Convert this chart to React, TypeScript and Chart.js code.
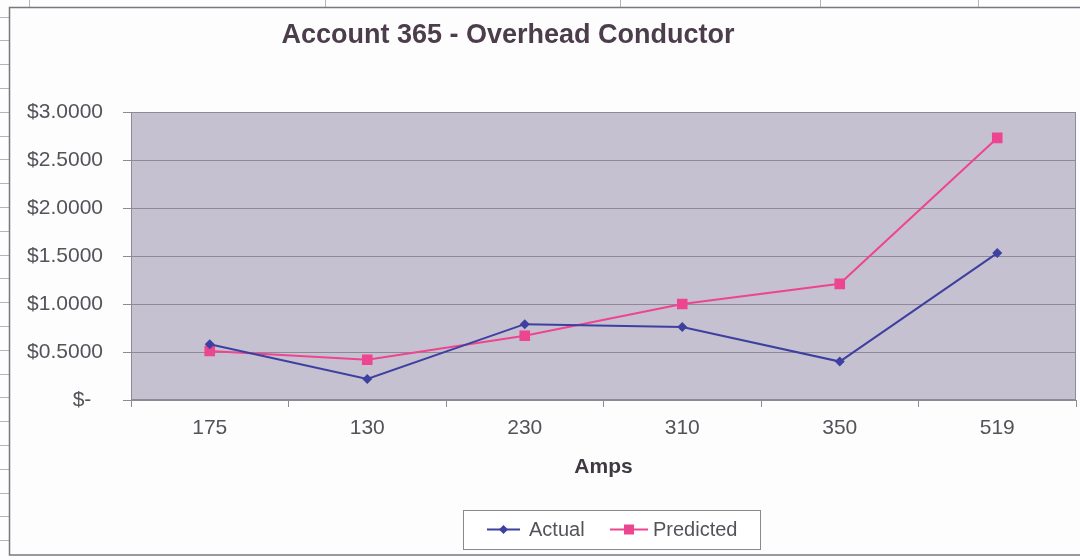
import React, { useEffect, useRef } from "react";
import { Chart, registerables } from "chart.js";

Chart.register(...registerables);

const categories = ["175", "130", "230", "310", "350", "519"];
const actualValues = [0.58, 0.22, 0.79, 0.76, 0.4, 1.53];
const predictedValues = [0.51, 0.42, 0.67, 1.0, 1.21, 2.73];
const chartTitle = "Account 365 - Overhead Conductor";
const xAxisTitle = "Amps";
const seriesNames = ["Actual", "Predicted"];

const BLUE = "#3d40a0";
const PINK = "#ee4590";
const GRID = "#8d8a96";
const TEXT = "#555259";
const FONT = "'Liberation Sans', Arial, sans-serif";
const PLOT_RIGHT = 1076;

const decorPlugin = {
  id: "decor",
  afterLayout(chart: any) {
    // widen the plot area to the reference's right edge
    const xs = chart.scales.x;
    chart.chartArea.right = PLOT_RIGHT;
    chart.chartArea.width = PLOT_RIGHT - chart.chartArea.left;
    xs.right = PLOT_RIGHT;
    xs.width = PLOT_RIGHT - xs.left;
    xs.configure();
  },
  beforeDraw(chart: any) {
    const { ctx, chartArea } = chart;
    ctx.save();
    ctx.fillStyle = "#fdfdfd";
    ctx.fillRect(0, 0, chart.width, chart.height);
    // faint spreadsheet cell lines outside the chart frame
    ctx.strokeStyle = "#b4b2ba";
    ctx.lineWidth = 1;
    ctx.beginPath();
    for (let y = 16.5; y < 560; y += 23.8) {
      const yy = Math.round(y) + 0.5;
      ctx.moveTo(0, yy);
      ctx.lineTo(9, yy);
    }
    for (const x of [29, 325, 620, 820, 978]) {
      ctx.moveTo(x + 0.5, 0);
      ctx.lineTo(x + 0.5, 7);
    }
    ctx.stroke();
    // chart frame
    ctx.strokeStyle = "#7a7780";
    ctx.lineWidth = 1.5;
    ctx.beginPath();
    ctx.moveTo(1085, 7.5);
    ctx.lineTo(9.5, 7.5);
    ctx.lineTo(9.5, 555);
    ctx.lineTo(1085, 555);
    ctx.stroke();
    // plot background
    ctx.fillStyle = "#c5c1d0";
    ctx.fillRect(chartArea.left, chartArea.top, chartArea.right - chartArea.left, chartArea.bottom - chartArea.top);
    ctx.restore();
  },
  beforeDatasetsDraw(chart: any) {
    const { ctx, chartArea } = chart;
    ctx.save();
    ctx.strokeStyle = GRID;
    ctx.lineWidth = 1;
    ctx.strokeRect(chartArea.left + 0.5, chartArea.top + 0.5, chartArea.right - chartArea.left - 1, chartArea.bottom - chartArea.top - 1);
    ctx.restore();
  },
  afterDraw(chart: any) {
    const { ctx } = chart;
    ctx.save();
    // title
    ctx.fillStyle = "#4b3d4b";
    ctx.font = `bold 27px ${FONT}`;
    ctx.textAlign = "center";
    ctx.textBaseline = "middle";
    ctx.fillText(chartTitle, 508, 36);

    // legend box
    const bx = 463, by = 510, bw = 297, bh = 39;
    ctx.fillStyle = "#ffffff";
    ctx.fillRect(bx, by, bw, bh);
    ctx.strokeStyle = "#8a8a8a";
    ctx.lineWidth = 1;
    ctx.strokeRect(bx + 0.5, by + 0.5, bw, bh);

    const cy = by + bh / 2;
    const items = [
      { x0: 487, x1: 520, tx: 529, color: BLUE, style: "diamond", label: chart.data.datasets[0].label },
      { x0: 610, x1: 648, tx: 653, color: PINK, style: "square", label: chart.data.datasets[1].label },
    ];
    ctx.font = `20px ${FONT}`;
    ctx.textAlign = "left";
    ctx.textBaseline = "middle";
    for (const it of items) {
      ctx.strokeStyle = it.color;
      ctx.lineWidth = 2;
      ctx.beginPath();
      ctx.moveTo(it.x0, cy);
      ctx.lineTo(it.x1, cy);
      ctx.stroke();
      const mx = (it.x0 + it.x1) / 2;
      ctx.fillStyle = it.color;
      ctx.beginPath();
      if (it.style === "diamond") {
        ctx.moveTo(mx, cy - 4.5);
        ctx.lineTo(mx + 4.5, cy);
        ctx.lineTo(mx, cy + 4.5);
        ctx.lineTo(mx - 4.5, cy);
        ctx.closePath();
      } else {
        ctx.rect(mx - 5, cy - 5, 10, 10);
      }
      ctx.fill();
      ctx.fillStyle = TEXT;
      ctx.fillText(it.label, it.tx, cy + 1);
    }
    ctx.restore();
  },
};

export default function App() {
  const canvasRef = useRef<HTMLCanvasElement | null>(null);

  useEffect(() => {
    if (!canvasRef.current) return;
    const chart = new Chart(canvasRef.current, {
      type: "line",
      data: {
        labels: categories,
        datasets: [
          {
            label: seriesNames[0],
            data: actualValues,
            borderColor: BLUE,
            backgroundColor: BLUE,
            borderWidth: 2,
            pointStyle: "rectRot",
            pointRadius: 5,
            pointBorderWidth: 0,
            tension: 0,
          },
          {
            label: seriesNames[1],
            data: predictedValues,
            borderColor: PINK,
            backgroundColor: PINK,
            borderWidth: 2,
            pointStyle: "rect",
            pointRadius: 7.5,
            pointBorderWidth: 0,
            tension: 0,
          },
        ],
      },
      plugins: [decorPlugin],
      options: {
        responsive: false,
        animation: false,
        layout: { padding: { left: 0, right: 4, top: 112, bottom: 0 } },
        plugins: {
          legend: { display: false },
          title: { display: false },
          tooltip: { enabled: false },
        },
        scales: {
          x: {
            type: "category",
            offset: true,
            afterFit: (scale: any) => {
              scale.height = 160;
            },
            grid: {
              offset: true,
              drawOnChartArea: false,
              drawTicks: true,
              tickLength: 7,
              color: GRID,
            },
            border: { display: true, color: GRID, width: 1 },
            ticks: {
              color: TEXT,
              font: { family: FONT, size: 21 },
              padding: 9,
              maxRotation: 0,
            },
            title: {
              display: true,
              text: xAxisTitle,
              color: "#3f3a42",
              font: { family: FONT, size: 21, weight: "bold" },
              padding: { top: 0, bottom: 80 },
            },
          },
          y: {
            min: 0,
            max: 3,
            afterFit: (scale: any) => {
              scale.width = 131;
            },
            grid: {
              color: GRID,
              lineWidth: 1,
              tickLength: 8,
            },
            border: { display: true, color: GRID, width: 1 },
            ticks: {
              stepSize: 0.5,
              color: TEXT,
              font: { family: FONT, size: 21 },
              padding: 20,
              callback: (v: any) => (Number(v) === 0 ? "$-  " : "$" + Number(v).toFixed(4)),
            },
          },
        },
      },
    });
    return () => chart.destroy();
  }, []);

  return (
    <div style={{ position: "fixed", left: 0, top: 0, width: 1080, height: 560 }}>
      <canvas ref={canvasRef} width={1080} height={560} />
    </div>
  );
}
